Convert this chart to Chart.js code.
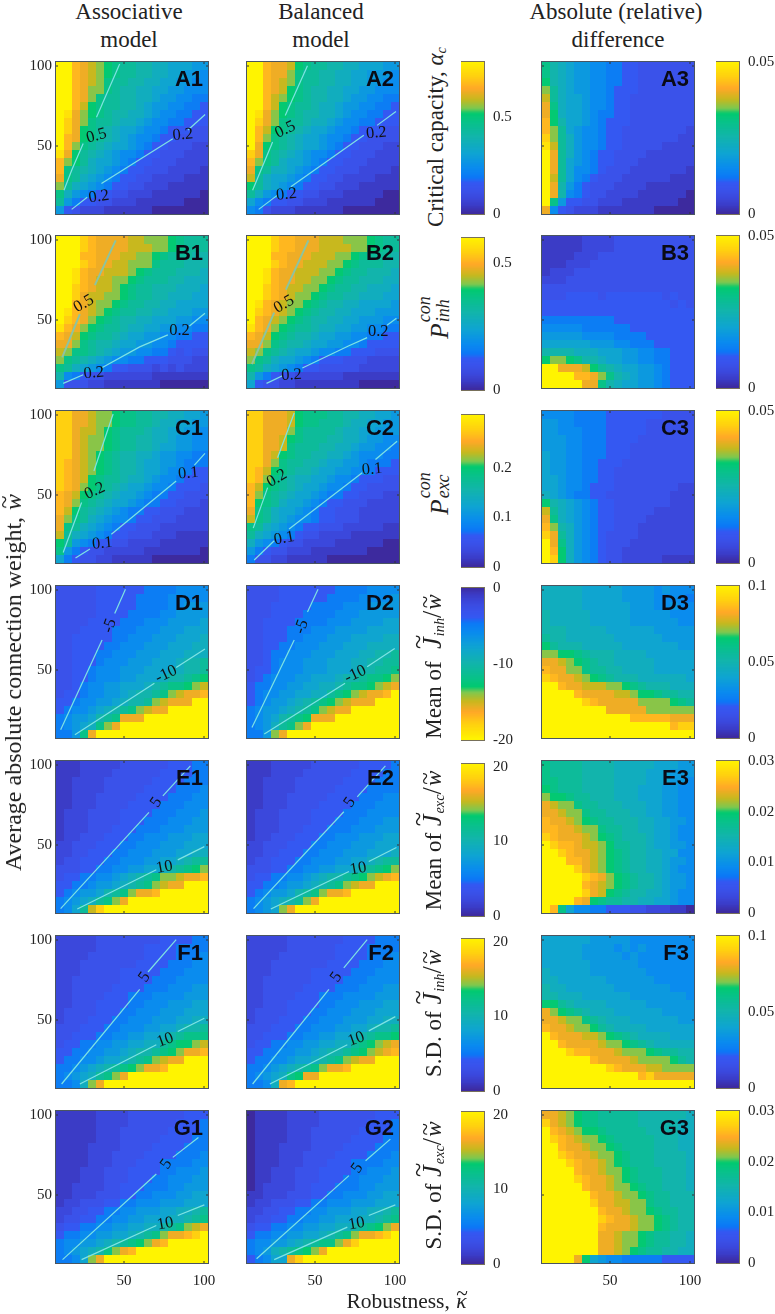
<!DOCTYPE html>
<html>
<head>
<meta charset="utf-8">
<script src="https://cdn.jsdelivr.net/npm/chart.js@4"></script>
<style>
html,body{margin:0;padding:0;background:#fff}
#fig{position:relative;width:775px;height:1314px;overflow:hidden;font-family:"Liberation Serif",serif;color:#222}
canvas{position:absolute;filter:blur(.35px)}
.t{position:absolute;white-space:nowrap;transform:translate(-50%,-50%);font-size:23px;line-height:1}
.r{transform:translate(-50%,-50%) rotate(-90deg)}
.r sub{font-size:.62em;vertical-align:-.25em;line-height:0}
.stack{display:inline-block;position:relative;width:30px;height:1em}
.stack i{position:absolute;left:1px;font-size:.72em;line-height:1}
.tl{position:relative;display:inline-block;margin:0 1px}
.tl b{position:absolute;left:0;right:0;top:-.36em;text-align:center;font-weight:normal;font-style:normal}
.big{font-size:1.15em}
.big .tl b{top:-.52em}
</style>
</head>
<body>
<div id="fig"></div>
<script>
// grid of the heatmaps (robustness across, weight down)
const kappa = [10,15,20,25,30,35,40,45,50,55,60,65,70,75,80,85,90,95,100];
const weight = [100,95,90,85,80,75,70,65,60,55,50,45,40,35,30,25,20,15,10];

// cells: one char per cell, base-36 level 0..k of the colour scale
const A1 = ["kkhgfedcbbaa9988877","kkhgfedcbbaa9988776","kkhgfecbbaa99887766","kkhgeecbaa998877666","kkhgecbbaa998776655","kkhfdcbbaa987766554","kjgedcbaa9987665544","kigecbba99876655444","kigdcba988766544433","khgdcba987665443333","khecba9887654433322","jgdba98766544333222","hedb988765443332222","hcba987654433322221","gcb9876544332222111","eb98765443322211111","c976544332221111110","b754433222111111000","7432221111110000000"];
const A2 = ["kkhggfdcbbaa9988877","kkhggecbbaa99887776","kkhgfecbbaa99887766","kkhgfdcbaa998877666","kkhfedcbaa998776655","kkhfdcbba9987766554","kjgedcbaa9987665544","kigecbba99876655444","khfdcba988766544433","khecba9887665443333","kgdcba9887654433322","igcba98766544333222","hecb988765443332222","gcb9987654433322221","fb98876544332222111","db98765443322211111","b976544332221111100","8654433222111111000","6532221111110000000"];
const A3 = ["ca98776655443333333","ca98776655443333333","da98776655443333333","eb98776654443333333","fb98876654433333333","gc98876654433333333","gd98876554433333333","hda8876544433333333","heb8766544333333332","ieb9766544333333322","jfb9766544333332222","kgb9765443333222222","kgb8765443332222222","kgb8665433322222221","kfb8654333222222111","kga7543332222111111","kga6543322221111110","kc74433222111111100","g643222111111100000"];
const B1 = ["kkkihggggffeeedcbbb","kkkihggggfffeedcbbb","kkkhhgggffeedcbbbaa","kkkihggffeeecbbbaaa","kkjhggfffedcbbbaaa9","kkjhgffeedcbbbaa999","kkihgffedcbbaaa9998","kkigffeedcbbaa99988","kkhgfeedcbbaa998888","kjhgfedcbbaa9988877","kihgedcbaa998887766","jhgedcbba9988776655","hgfdcbba98877665544","ggecbaa988776654444","feccba9877665543433","ecba987665544433322","cb98765443332323222","a654332222221111111","7333221111111000000"];
const B2 = ["kkkihhgggfffeeedcbb","kkkihhgggffffeedcbb","kkkhhgggfffeedcbbba","kkkihggfffeedcbbbaa","kkjhggfffeedcbbaaa9","kkjhggffeedcbbaaa99","kkihgffeedcbbaa9998","kkihgfeedcbbaa99988","kjhgfeedcbaa9988887","kihgfedcbaa99888777","khgfedcbaa998877766","jhgedcbba9988776655","hgfdcbaa98877665544","ggecbaa988776654444","fecba98876655444333","ecb9887654443332222","cb98765443333322222","a754332222221111111","8433221111111100000"];
const B3 = ["1111122223333333333","1111122223333333333","1111222333333333333","1112223333333333333","1222333333333333333","2223333333333333333","3333333333333333333","3334444344444443433","4444444444444444343","4444444444444444444","5555555554444444444","6666655555544444444","7777766665555444444","8888887776655544444","aaaa999888776655444","deedcaa988776655444","kkgggfdba9887765444","kkkkhhgeca987765444","kkkkkggca9887765444"];
const C1 = ["iiggfeedccbbaa99887","iiggfeedccbba998877","iigffedcbbba9988776","iigfeedcbbaa9987766","iigfeedcbbaa9887766","iigfedcbaa998776655","ihgfedcbaa988776555","ihgfedcbaa988766544","ihgfdcbba9987665444","ihgedcba98876654443","hgfdcba988765544333","hgecba9887655443332","hfdba98765544333222","gecb987665443332222","gcb9876544333222222","fb98765443332221111","db76544332222111111","c754332222211111110","8543322111110000000"];
const C2 = ["iigggfdcccbbaa99887","iigggfdccbbba998877","iigggecbbbba9988777","iiggfdcbbbaa9987766","iiggfcbbbaa99877665","iigfdcbbaa998766655","iigecbbaa9887765554","ihfdcbaa98877665444","ihecba9988766544433","hfdcba9887665443333","hecba98876554433322","hdcb988765443332222","gcb9887654433322222","fcb9876654433322222","cb98765443332222211","b987654332222111111","9765433222211111100","7543322211111110000","5332211111000000000"];
const C3 = ["6666555544444443333","7766555544444333333","7766655544444333333","7776655544443333333","7776655544433333333","8776655544433333333","8776655444333333333","8776655443333333333","8876655443333333333","8876654443333333322","9876554433333333222","da98765443333333222","fb98765443333322222","gc98765443333222222","hea9765443332222222","igb9765433332222222","kgc9765433322222222","khd9765433222222222","kid9765433222221111"];
const D1 = ["3333344444455556666","3333344444555566666","3333344444555566777","3333344445555667777","3333444455566677778","3334444555666777888","3344444556667778889","3344445566677788899","3344455666777888999","3344456667778889aab","3344566677788899aab","33445666778889aabcd","334566778889abccdef","3445667789aabcefggh","445667789aabefgggkk","4566789abcefggkkkkk","56778abcgggkkkkkkkk","56789cegkkkkkkkkkkk","557cgkkkkkkkkkkkkkk"];
const D2 = ["3333444444455556666","3333444444555566667","3334444455556667777","3334444555566677777","3344445555666777788","3344455566677778888","3344455666777888899","3344556667778889999","3345566677788899aab","334566677788899aabb","34456667778889aabbc","345666778889aabccde","45566778899abccdefg","4566778899bcdefgghk","4567789abcdefgggkkk","567789abcefggkkkkkk","5678abcdgggkkkkkkkk","5679bcegkkkkkkkkkkk","557egkkkkkkkkkkkkkk"];
const D3 = ["9999988888777767666","9999988888777766665","9999988888877766766","a999998888877777666","a999998888877777766","aaa9999988888877777","baa9999998888887777","dbaaa99999888888877","eeddcbaaa9999888888","ggfedcbaa9999988888","hggeecbbaa999988888","ihggfedcbaaa9999998","kkhggfffeedcbaaa999","kkkkhggggffeddcbbaa","kkkkkihgggggeeeedcb","kkkkkkkkgggggeeeeee","kkkkkkkkkkkhhhhhggg","kkkkkkkkkkkkkkkkhii","kkkkkkkkkkkkkkkkkkk"];
const E1 = ["1112222233333344455","1112222333333444455","1122223333334444555","1122223333344445556","1122233333444455566","1122233334444555666","1222333344445556667","1222333344455566677","1222333444555666777","1223334445566677788","2233344455666777888","2233444556667778899","2334445566677889abb","33344556677889abcde","3445566789abceefggh","445567789abcefggkkk","456778abcegghkkkkkk","56789bcegkkkkkkkkkk","568bfikkkkkkkkkkkkk"];
const E2 = ["1112222233333344445","1112222333333444455","1122223333334444555","1122223333344445555","1122233333444455566","1122233334444555666","1222333344445556666","1222333344455566677","1222333444555666777","1223334445566677788","2233344455666777888","2233444556667778889","2334445566677889abb","33344556677889abcde","3445566789aabcdefgh","445567789abcefggkkk","456778abcegghkkkkkk","56789abegkkkkkkkkkk","5678egkkkkkkkkkkkkk"];
const E3 = ["cbbbbaaaa9999988877","cbbbbaaaa9999888777","ccbbbaaaa9999888776","dcbbbaaaa9998887766","eddcbbaaa9998887766","gfeecbbaaa999887766","ggfeecbbaaa99887766","hggfedcbbaaa9988776","hhggfeecbbaa9988766","ihgggfedcbaaa988766","kihhgffedbbaa988776","kkihggfedcbaa998866","kkkhhgfedcbaa998776","kkkkigfedcbaa998766","kkkkkihgedcbaa98776","kkkkkhgfedcbaa98776","kkkkkigfdcbaa998766","kkkkhgdcbbaa9988766","khc8665544433222110"];
const F1 = ["2222233333333444455","2222233333344445555","2222333333344445556","2223333333444455566","2223333344444555666","2233333344445556666","2233333444455566677","2233334445556666777","2233344445566677788","2333344455666777888","2333444556667778899","3334445566677889aab","33444556677889abccc","3445566778899bcddef","4455667789aabcdeggh","455667889abcefggkkk","556789abcdegghkkkkk","56789bcegkkkkkkkkkk","5569egkkkkkkkkkkkkk"];
const F2 = ["2222233333334444555","2222233333344445555","2222333333344445556","2223333333444455566","2223333344444555666","2233333344445556666","2233333444455566677","2233334445556666777","2233344445566677788","2333344455666777888","2333444556667778899","3334445566677889aab","33444556677889abccd","3445566778899bcdefg","4455667789aabcdefgh","455667889abcefggkkk","556789abcegghkkkkkk","56789cdggkkkkkkkkkk","5569ghkkkkkkkkkkkkk"];
const F3 = ["8888887777766666666","8888877776767666666","8888877777676666666","8888887777776666666","9888887777777666666","9988888877777766666","a998888887777777666","aa99988888877777776","ddba999988888777777","gedcba9998888887777","ggfeecba99988888877","hggfeedba9999888888","khgggffedcba9999888","kkhggggfeedcba99999","kkkihhgggfeeedcbbaa","kkkkkkhggggfeeeedba","kkkkkkkkihgggffeeee","kkkkkkkkkkkkhiggggg","kkkkkkkkkkkkkkkkkkk"];
const G1 = ["1111122223333333444","1111122223333334445","1111122233333344445","1111122233333444455","1111222233334444555","1111222333344445556","1111222333444555566","1112223334444556667","1112223334445566677","1122223344455566777","1122233344556667788","1223334455666777888","22334455667778899ab","2334455667788899abc","3445566778899abcefg","4556677889abcegghik","5667789abcdeghkkkkk","56789aceghkkkkkkkkk","5568egkkkkkkkkkkkkk"];
const G2 = ["0111122223333333444","0111122223333334445","0111122233333344445","0111122233333444455","0111222233334444555","0111222333344445556","0111222333444555566","0112223334444556667","0112223334445566677","0122223344455566777","1122233344556667788","1223334455666777888","22334455667778899ab","2334455667788899abc","3445566778899abcdeg","4556677889abcegghik","5667789abccegikkkkk","5679abcdegkkkkkkkkk","45688gikkkkkkkkkkkk"];
const G3 = ["ggfedccbbbbbaaaaaa9","igfedccbbbbbaaaaa99","khgfeddcbbbbbaaaa99","kihgfeedcbbbbbaaa99","kkhggfeedcbbbbaaa99","kkihggfeedcbbbaaaa9","kkkihggfedcbbbaaaa9","kkkkhggfeedcbbbaaa9","kkkkihggfedcbbbaaa9","kkkkkhggfeedcbbaaa9","kkkkkkhggfeedcbbaaa","kkkkkkiggffeecbbaaa","kkkkkkkhggfeedcbbaa","kkkkkkkihggfeedcbaa","kkkkkkkhgggfeedcbaa","kkkkkkkggfeedcbbaa9","kkkkkkkggfeedcbbaa9","kkkkkkkggfedcbbaa99","kkkkgd8766555554444"];

// contour lines, point lists in data units, broken where the label sits
const A1_lines = [[[12.5,22.4],[17.3,34.9],[24.5,51.5]],[[32.8,68],[47.3,101.3]],[[17.3,10.4],[27,18]],[[35.9,26.6],[80.5,54.6]],[[90,60],[100.7,69.7]]];
const A2_lines = [[[11,22.4],[23.5,52.5]],[[31.4,69],[45.3,100.2]],[[14.8,10.4],[26.6,19.3]],[[34.9,24.5],[80.5,56.7]],[[88.8,62.9],[100.6,71.6]]];
const B1_lines = [[[11.4,26.6],[22.4,53.6]],[[31.8,71.8],[44.8,99.8]],[[12,10.4],[24.5,15.8]],[[35.9,20],[59.8,33.2],[77.4,40.7]],[[90.9,46.3],[100.6,54.2]]];
const B2_lines = [[[10.6,22.4],[24.5,54.6]],[[31.8,69],[45.9,99.8]],[[19.7,10.4],[29.7,15.2]],[[42.1,20],[71.2,33.9],[82.6,39]],[[95,46.7],[100.9,51.1]]];
const C1_lines = [[[12,14.1],[23.5,45.3]],[[31.2,65],[43.2,100.6]],[[19.7,10.6],[28.7,16.2]],[[42.1,25.5],[82.6,58.7]],[[94,68.7],[100.6,76]]];
const C2_lines = [[[11.4,29.3],[20.4,54.6]],[[26.6,73.3],[37,101.3]],[[12,9.4],[24.5,21.4]],[[33.8,28.7],[79.5,63.9]],[[87.8,72.2],[101.3,83.6]]];
const D1_lines = [[[10.4,12.7],[36.3,68.7]],[[44.2,85.3],[50.9,100.4]],[[19.3,9.6],[69,41.7]],[[82.6,51.5],[100.6,63.1]]];
const D2_lines = [[[10.6,14.1],[37,68.7]],[[45.3,86.3],[51.9,100.4]],[[18.3,10],[68.8,41.7]],[[82.6,52],[99.8,63.5]]];
const E1_lines = [[[10.4,10.2],[65.6,70.4]],[[74.3,80.7],[91.5,99.4]],[[20.8,10],[70.2,34.5]],[[83.6,40.7],[100.2,49]]];
const E2_lines = [[[11.6,10.2],[68,70.8]],[[76.4,80.1],[94,99.4]],[[22.4,10],[71.2,33.4]],[[83.6,39.7],[100.9,48.4]]];
const F1_lines = [[[11,10],[59.8,69.1]],[[65,80],[82.6,100.2]],[[22.4,10],[70.2,34.5]],[[83.6,42.8],[100.2,51.1]]];
const F2_lines = [[[11,10],[58.7,69.1]],[[68,82.6],[82.6,100.2]],[[21.8,10],[70.2,34.5]],[[83.6,43.2],[100.2,52.1]]];
const G1_lines = [[[11.6,9.6],[70.2,63.1]],[[80.5,73.5],[96.5,85.9]],[[23.5,9.6],[70.2,30.9]],[[83.6,37.2],[100.2,43.8]]];
const G2_lines = [[[13.5,10.2],[71.2,62.1]],[[81.6,71.4],[97.1,84.9]],[[24.5,9.6],[70.2,29.9]],[[83.6,37.2],[100.2,43.8]]];

// contour labels: text, x, y, angle
const A1_marks = [["0.5",32.8,56.3,-15],["0.2",34.3,18.3,-8],["0.2",86.8,57,-5]];
const A2_marks = [["0.5",31.4,60.2,-25],["0.2",32.2,19.7,-5],["0.2",88.4,58.1,-5]];
const B1_marks = [["0.5",24.9,60.2,-30],["0.2",31.2,16.8,-5],["0.2",84.7,43.6,0]];
const B2_marks = [["0.5",30.7,59.8,-30],["0.2",35.3,15.6,-3],["0.2",89.5,42.6,0]];
const C1_marks = [["0.2",31.8,52.5,-25],["0.1",36.5,19.7,-5],["0.1",90.2,63.5,-5]];
const C2_marks = [["0.2",26.2,60.4,-30],["0.1",30.7,22.9,-10],["0.1",85.7,66,-5]];
const D1_marks = [["-5",41.1,77.6,-70],["-10",76.4,47.3,-25]];
const D2_marks = [["-5",41.7,77,-70],["-10",75.3,47.3,-25]];
const E1_marks = [["5",70.2,76.6,-55],["10",75.3,36.1,-10]];
const E2_marks = [["5",71.8,76.6,-55],["10",77,35.1,-10]];
const F1_marks = [["5",62.9,76.8,-55],["10",75.8,37.4,-20]];
const F2_marks = [["5",63.3,76.8,-55],["10",75.8,38,-20]];
const G1_marks = [["5",76.4,69.3,-55],["10",75.8,32,-10]];
const G2_marks = [["5",76.4,66.8,-55],["10",76,32,-10]];

// colour bar ranges and ticks, per row
const midRange = [[0,0.78],[0,0.6],[0,0.306],[-20,0],[0,20.4],[0,20.4],[0,20.4]];
const midTicks = [[0,0.5],[0,0.5],[0,0.1,0.2],[-20,-10,0],[0,10,20],[0,10,20],[0,10,20]];
const diffRange = [[0,0.05],[0,0.05],[0,0.05],[0,0.1],[0,0.03],[0,0.1],[0,0.03]];
const diffTicks = [[0,0.05],[0,0.05],[0,0.05],[0,0.05,0.1],[0,0.01,0.02,0.03],[0,0.05,0.1],[0,0.01,0.02,0.03]];
const panelTicks = [50,100];

// colour map stops: position 0..1, colour
const cmap = [[0,'#3d2a9e'],[0.05,'#3b3cc6'],[0.1,'#3b48dc'],[0.15,'#3a52ea'],[0.2,'#3458f2'],[0.235,'#0c78f6'],[0.3,'#0a8cee'],[0.4,'#0fa5d0'],[0.5,'#12b4ac'],[0.6,'#08c288'],[0.655,'#02ca70'],[0.69,'#7cc850'],[0.75,'#c8b81e'],[0.82,'#ffa828'],[0.9,'#ffd010'],[1,'#fff400']];

const rowNames = ['A','B','C','D','E','F','G'];
const rowTop = [62,236,411,586,761,936,1111];
const colLeft = [56,247,542];
const midTop = [62,238,415,588,764,939,1112];
const diffTop = [62,236,411,586,761,936,1111];
const cells = {A1,A2,A3,B1,B2,B3,C1,C2,C3,D1,D2,D3,E1,E2,E3,F1,F2,F3,G1,G2,G3};
const lines = {A1_lines,A2_lines,B1_lines,B2_lines,C1_lines,C2_lines,D1_lines,D2_lines,E1_lines,E2_lines,F1_lines,F2_lines,G1_lines,G2_lines};
const marks = {A1_marks,A2_marks,B1_marks,B2_marks,C1_marks,C2_marks,D1_marks,D2_marks,E1_marks,E2_marks,F1_marks,F2_marks,G1_marks,G2_marks};

const SERIF = '"Liberation Serif", serif';
const PANEL = 152; // 19 cells of 8 px, so cell edges land on whole pixels
const fig = document.getElementById('fig');

function hex(c) {
    return [1,3,5].map(i => parseInt(c.substr(i,2),16));
}

function colorAt(t) {
    t = Math.min(1,Math.max(0,t));
    for (let i = 1; i < cmap.length; i++) {
        if (t <= cmap[i][0]) {
            const f = (t-cmap[i-1][0])/(cmap[i][0]-cmap[i-1][0]);
            const a = hex(cmap[i-1][1]), b = hex(cmap[i][1]);
            return 'rgb('+a.map((v,k) => Math.round(v+(b[k]-v)*f)).join(',')+')';
        }
    }
    return cmap[cmap.length-1][1];
}

// frame, small inward ticks, contour labels and panel letter
const panelDecor = {
    id: 'panelDecor',
    afterDatasetsDraw(chart, args, opts) {
        const {ctx, chartArea: a, scales} = chart;
        ctx.save();
        ctx.strokeStyle = opts.frame;
        ctx.lineWidth = 1;
        ctx.strokeRect(a.left-.5,a.top-.5,a.right-a.left+1,a.bottom-a.top+1);
        ctx.strokeStyle = '#333';
        (opts.ticks || []).forEach(v => {
            const px = scales.x.getPixelForValue(v), py = scales.y.getPixelForValue(v);
            ctx.beginPath();
            ctx.moveTo(px,a.bottom); ctx.lineTo(px,a.bottom-2);
            ctx.moveTo(px,a.top); ctx.lineTo(px,a.top+2);
            ctx.moveTo(a.left,py); ctx.lineTo(a.left+2,py);
            ctx.moveTo(a.right,py); ctx.lineTo(a.right-2,py);
            ctx.stroke();
        });
        ctx.fillStyle = '#111';
        ctx.font = '16.5px '+SERIF;
        ctx.textAlign = 'center';
        ctx.textBaseline = 'middle';
        (opts.marks || []).forEach(m => {
            ctx.save();
            ctx.translate(scales.x.getPixelForValue(m[1]),scales.y.getPixelForValue(m[2]));
            ctx.rotate(m[3]*Math.PI/180);
            ctx.fillText(m[0],0,0);
            ctx.restore();
        });
        if (opts.letter) {
            ctx.font = 'bold 22px "Liberation Sans", sans-serif';
            ctx.textAlign = 'right';
            ctx.fillStyle = '#0a0a14';
            ctx.fillText(opts.letter,a.right-5,a.top+18);
        }
        ctx.restore();
    }
};

function addCanvas(left, top, w, h) {
    const c = document.createElement('canvas');
    c.width = w; c.height = h;
    c.style.left = left+'px'; c.style.top = top+'px';
    c.style.width = w+'px'; c.style.height = h+'px';
    fig.appendChild(c);
    return c;
}

function fixedAxis(prop, size) {
    return s => {
        s[prop] = size;
        s.paddingTop = s.paddingBottom = s.paddingLeft = s.paddingRight = 0;
    };
}

function heatPanel(name, left, top, showX, showY) {
    const rows = cells[name];
    const datasets = weight.map((w,r) => ({
        type: 'bar',
        order: 2,
        data: kappa.map(k => ({x:k, y:[w-2.5,w+2.5]})),
        backgroundColor: kappa.map((k,i) => colorAt(parseInt(rows[r][i],36)/20)),
        borderWidth: 0,
        inflateAmount: 0,
        grouped: false,
        barPercentage: 1,
        categoryPercentage: 1
    }));
    (lines[name+'_lines'] || []).forEach((seg,i) => {
        const faded = name[0] === 'B' && i < 2;
        datasets.push({
            type: 'line',
            order: 1,
            data: seg.map(p => ({x:p[0], y:p[1]})),
            borderColor: faded ? '#8cc4a0' : '#7fe3e3',
            borderWidth: faded ? 2 : 1.2,
            pointRadius: 0,
            tension: 0
        });
    });
    return new Chart(addCanvas(left-40,top-8,PANEL+52,PANEL+34), {
        data: {datasets},
        plugins: [panelDecor],
        options: {
            responsive: false,
            animation: false,
            events: [],
            devicePixelRatio: 1,
            layout: {padding: {top:8, right:12, bottom:0, left:0}},
            scales: {
                x: {
                    type: 'linear', min: 7.5, max: 102.5, offset: false,
                    grid: {display:false, tickLength:0}, border: {display:false},
                    afterBuildTicks: s => { s.ticks = panelTicks.map(value => ({value})); },
                    afterFit: fixedAxis('height',26),
                    ticks: {display: showX, color:'#222', padding:9, maxRotation:0, autoSkip:false, font:{family:SERIF,size:15}}
                },
                y: {
                    type: 'linear', min: 7.5, max: 102.5,
                    grid: {display:false, tickLength:0}, border: {display:false},
                    afterBuildTicks: s => { s.ticks = panelTicks.map(value => ({value})); },
                    afterFit: fixedAxis('width',40),
                    ticks: {display: showY, color:'#222', padding:4, autoSkip:false, font:{family:SERIF,size:15}}
                }
            },
            plugins: {
                legend: {display:false},
                tooltip: {enabled:false},
                panelDecor: {frame:'#4a5560', ticks:panelTicks, marks:marks[name+'_marks'], letter:name}
            }
        }
    });
}

function colorBar(left, top, range, ticks) {
    const lo = range[0], hi = range[1], reversed = lo < 0;
    const steps = [];
    for (let i = 0; i < 128; i++) steps.push(i);
    const datasets = steps.map(i => {
        const a = lo+(hi-lo)*i/128, b = lo+(hi-lo)*(i+1.4)/128;
        const t = (i+0.5)/128;
        return {
            data: [[a,b]],
            backgroundColor: colorAt(reversed ? 1-t : t),
            borderWidth: 0,
            grouped: false,
            barPercentage: 1,
            categoryPercentage: 1
        };
    });
    return new Chart(addCanvas(left,top-8,23+55,PANEL+16), {
        type: 'bar',
        data: {labels:['bar'], datasets},
        plugins: [panelDecor],
        options: {
            responsive: false,
            animation: false,
            events: [],
            devicePixelRatio: 1,
            layout: {padding: {top:8, right:0, bottom:8, left:0}},
            scales: {
                x: {display:false, offset:true},
                y: {
                    position: 'right',
                    min: lo, max: hi,
                    grid: {display:false, tickLength:0}, border: {display:false},
                    afterBuildTicks: s => { s.ticks = ticks.map(value => ({value})); },
                    afterFit: fixedAxis('width',55),
                    ticks: {color:'#222', padding:9, autoSkip:false, font:{family:SERIF,size:15}, callback: v => String(v)}
                }
            },
            plugins: {
                legend: {display:false},
                tooltip: {enabled:false},
                panelDecor: {frame:'#77705a'}
            }
        }
    });
}

rowNames.forEach((row,r) => {
    colLeft.forEach((x,c) => heatPanel(row+(c+1),x,rowTop[r],r === 6 && c < 3,c === 0));
    colorBar(461,midTop[r],midRange[r],midTicks[r]);
    colorBar(716,diffTop[r],diffRange[r],diffTicks[r]);
});

function addText(html, x, y, rotated, size) {
    const d = document.createElement('div');
    d.className = rotated ? 't r' : 't';
    d.style.left = x+'px'; d.style.top = y+'px';
    if (size) d.style.fontSize = size+'px';
    d.innerHTML = html;
    fig.appendChild(d);
}

const tilde = ch => '<span class="tl"><i>'+ch+'</i><b>~</b></span>';
const W = tilde('w');
const J = '<span class="big">'+tilde('J')+'</span>';
const stack = (a,b) => '<span class="stack"><i style="top:-.42em">'+a+'</i><i style="top:.62em">'+b+'</i></span>';

addText('Associative',129,11);
addText('model',129,39);
addText('Balanced',321,11);
addText('model',321,39);
addText('Absolute (relative)',616,11);
addText('difference',618,39);
addText('Average absolute connection weight, '+W,13,682,true,24);
addText('Robustness, '+tilde('&#954;'),407,1302,false,21.5);
addText('Critical capacity, <i>&#945;<sub>c</sub></i>',435,137,true);
addText('<i>P</i>'+stack('con','inh'),437,316,true,25);
addText('<i>P</i>'+stack('con','exc'),437,492,true,25);
addText('Mean of&nbsp;&nbsp;'+J+'<i><sub>inh</sub></i><span class="big">/</span>'+W,432,666,true);
addText('Mean of '+J+'<i><sub>exc</sub></i><span class="big">/</span>'+W,432,840,true);
addText('S.D. of '+J+'<i><sub>inh</sub></i><span class="big">/</span>'+W,432,1013,true);
addText('S.D. of '+J+'<i><sub>exc</sub></i><span class="big">/</span>'+W,432,1185,true);
</script>
</body>
</html>
